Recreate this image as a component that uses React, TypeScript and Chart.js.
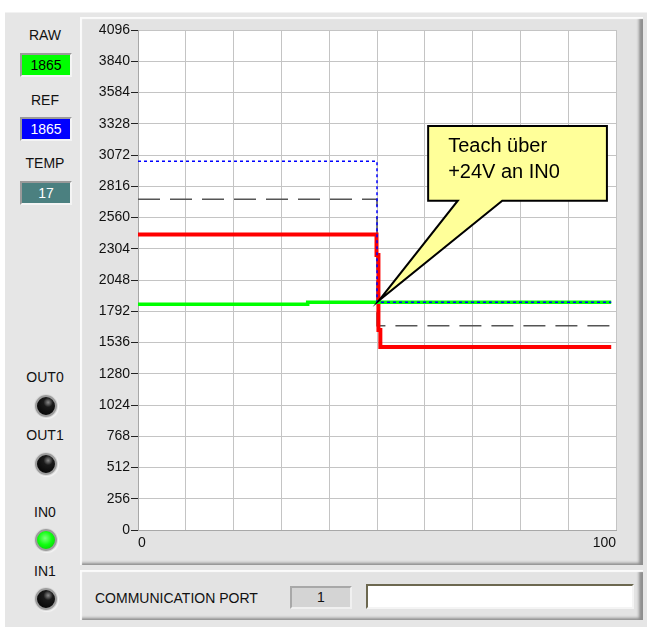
import React, { useEffect, useRef } from 'react';
import { Chart, registerables } from 'chart.js';

Chart.register(...registerables);

// ---- data ----
const Y_MIN = 0;
const Y_MAX = 4096;
const Y_STEP = 256;
const X_MIN = 0;
const X_MAX = 100;
const X_STEP = 10;
const X_TICK_LABELS = [0, 100];

const RAW_X = [0, 35.5, 35.5, 99];
const RAW_Y = [1850, 1850, 1865, 1865];

const REF_X = [0, 50, 50, 99];
const REF_Y = [3020, 3020, 1865, 1865];

const TOL_X = [0, 50, 50, 99];
const TOL_Y = [2710, 2710, 1673, 1673];

const OUT_X = [0, 49.9, 49.9, 50.3, 50.3, 50.7, 50.7, 99];
const OUT_Y = [2420, 2420, 2253, 2253, 1638, 1638, 1500, 1500];

const CALLOUT_LINES = ['Teach über', '+24V an IN0'];
const CALLOUT_BOX_X = [60.7, 98.1];
const CALLOUT_BOX_Y = [3310, 2698];
const CALLOUT_BASE_X = [66.9, 76.2];
const CALLOUT_TIP = [50.4, 1880];

const RAW_VALUE = '1865';
const REF_VALUE = '1865';
const TEMP_VALUE = '17';
const PORT_VALUE = '1';

const FONT = '"Liberation Sans", Arial, sans-serif';

const pts = (xs: number[], ys: number[]) => xs.map((x, i) => ({ x, y: ys[i] }));

const plotBg = {
  id: 'plotBg',
  beforeDraw(chart: any) {
    const { ctx, chartArea: a } = chart;
    ctx.save();
    ctx.fillStyle = '#ffffff';
    ctx.fillRect(a.left, a.top, a.right - a.left, a.bottom - a.top);
    ctx.restore();
  },
};

const callout = {
  id: 'callout',
  afterDatasetsDraw(chart: any) {
    const { ctx } = chart;
    const xs = chart.scales.x;
    const ys = chart.scales.y;
    const l = xs.getPixelForValue(CALLOUT_BOX_X[0]);
    const r = xs.getPixelForValue(CALLOUT_BOX_X[1]);
    const t = ys.getPixelForValue(CALLOUT_BOX_Y[0]);
    const b = ys.getPixelForValue(CALLOUT_BOX_Y[1]);
    const b1 = xs.getPixelForValue(CALLOUT_BASE_X[0]);
    const b2 = xs.getPixelForValue(CALLOUT_BASE_X[1]);
    const tx = xs.getPixelForValue(CALLOUT_TIP[0]);
    const ty = ys.getPixelForValue(CALLOUT_TIP[1]);
    ctx.save();
    ctx.beginPath();
    ctx.moveTo(l, t);
    ctx.lineTo(r, t);
    ctx.lineTo(r, b);
    ctx.lineTo(b2, b);
    ctx.lineTo(tx, ty);
    ctx.lineTo(b1, b);
    ctx.lineTo(l, b);
    ctx.closePath();
    ctx.fillStyle = '#ffff99';
    ctx.fill();
    ctx.lineWidth = 2;
    ctx.strokeStyle = '#000000';
    ctx.lineJoin = 'miter';
    ctx.stroke();
    ctx.fillStyle = '#000000';
    ctx.font = `20px ${FONT}`;
    ctx.textBaseline = 'middle';
    ctx.textAlign = 'left';
    CALLOUT_LINES.forEach((line, i) => {
      ctx.fillText(line, l + 20, t + 21 + i * 26);
    });
    ctx.restore();
  },
};

function Led({ on, top }: { on?: boolean; top: number }) {
  return (
    <div
      style={{
        position: 'absolute',
        left: 35,
        top: top - 11,
        width: 18,
        height: 18,
        borderRadius: '50%',
        border: '2px solid #9c9c9c',
        boxShadow: '0 0 0 1px #d8d8d8, 1px 1px 1px 1px #f4f4f4',
        background: on
          ? 'radial-gradient(circle at 45% 40%, #7dff7d 0, #10ff10 45%, #00c000 100%)'
          : 'radial-gradient(circle at 62% 30%, #8a8a8a 0, #1a1a1a 28%, #000000 100%)',
      }}
    />
  );
}

function Label({ text, top }: { text: string; top: number }) {
  return (
    <div
      style={{
        position: 'absolute',
        left: 14,
        width: 62,
        top: top - 8,
        height: 16,
        lineHeight: '16px',
        textAlign: 'center',
        fontSize: 14,
        color: '#111',
      }}
    >
      {text}
    </div>
  );
}

function ValueBox({ text, top, bg, color }: { text: string; top: number; bg: string; color: string }) {
  return (
    <div
      style={{
        position: 'absolute',
        left: 20,
        top,
        width: 48,
        height: 20,
        lineHeight: '20px',
        textAlign: 'center',
        fontSize: 14,
        background: bg,
        color,
        borderTop: '2px solid #9a9a9a',
        borderLeft: '2px solid #9a9a9a',
        borderBottom: '2px solid #f4f4f4',
        borderRight: '2px solid #f4f4f4',
      }}
    >
      {text}
    </div>
  );
}

export default function App() {
  const ref = useRef<HTMLCanvasElement>(null);

  useEffect(() => {
    if (!ref.current) return;
    const chart = new Chart(ref.current, {
      type: 'line',
      data: {
        datasets: [
          {
            label: 'REF',
            data: pts(REF_X, REF_Y),
            borderColor: '#0000ff',
            borderWidth: 1.5,
            borderDash: [3, 3],
            pointRadius: 0,
            tension: 0,
          },
          {
            label: 'RAW',
            data: pts(RAW_X, RAW_Y),
            borderColor: '#00ff00',
            borderWidth: 3.5,
            pointRadius: 0,
            tension: 0,
          },
          {
            label: 'OUT',
            data: pts(OUT_X, OUT_Y),
            borderColor: '#ff0000',
            borderWidth: 4,
            pointRadius: 0,
            tension: 0,
          },
          {
            label: 'TOL',
            data: pts(TOL_X, TOL_Y),
            borderColor: '#555555',
            borderWidth: 1.5,
            borderDash: [22, 10],
            pointRadius: 0,
            tension: 0,
          },
        ],
      },
      options: {
        animation: false,
        responsive: false,
        maintainAspectRatio: false,
        events: [],
        layout: { padding: { top: 12, right: 24, left: 0, bottom: 0 } },
        plugins: {
          legend: { display: false },
          tooltip: { enabled: false },
          title: { display: false },
        },
        scales: {
          x: {
            type: 'linear',
            min: X_MIN,
            max: X_MAX,
            afterFit: (s: any) => {
              s.height = 35;
            },
            ticks: {
              stepSize: X_STEP,
              autoSkip: false,
              maxRotation: 0,
              align: 'inner',
              padding: 5,
              color: '#111',
              font: { family: FONT, size: 14 },
              callback: (v: any) => (X_TICK_LABELS.includes(Number(v)) ? String(v) : ''),
            },
            grid: { color: '#c4c4c4', lineWidth: 1, drawTicks: false },
            border: { color: '#a8a8a8', width: 1 },
          },
          y: {
            type: 'linear',
            min: Y_MIN,
            max: Y_MAX,
            afterFit: (s: any) => {
              s.width = 58;
            },
            ticks: {
              stepSize: Y_STEP,
              autoSkip: false,
              padding: 1,
              color: '#111',
              font: { family: FONT, size: 14 },
              callback: (v: any) => String(v),
            },
            grid: { color: '#c4c4c4', lineWidth: 1, tickLength: 7, tickColor: '#222', drawTicks: true },
            border: { color: '#a8a8a8', width: 1 },
          },
        },
      } as any,
      plugins: [plotBg, callout],
    });
    return () => chart.destroy();
  }, []);

  const panelShadow = 'inset 2px 2px 1px #fbfbfb, inset -5px -3px 3px -1px #8e8e8e';

  return (
    <div
      style={{
        position: 'absolute',
        left: 0,
        top: 0,
        width: 647,
        height: 627,
        background: '#ffffff',
        overflow: 'hidden',
        fontFamily: FONT,
      }}
    >
      <div
        style={{
          position: 'absolute',
          left: 5,
          top: 12,
          width: 642,
          height: 615,
          background: '#e6e6e6',
          borderTop: '1px solid #f2f2f2',
        }}
      />
      {/* left column */}
      <Label text="RAW" top={35} />
      <ValueBox text={RAW_VALUE} top={53} bg="#00ff00" color="#000" />
      <Label text="REF" top={100} />
      <ValueBox text={REF_VALUE} top={117} bg="#0000ff" color="#fff" />
      <Label text="TEMP" top={163} />
      <ValueBox text={TEMP_VALUE} top={181} bg="#4b8080" color="#fff" />

      <Label text="OUT0" top={377} />
      <Led top={406} />
      <Label text="OUT1" top={435} />
      <Led top={464} />
      <Label text="IN0" top={512} />
      <Led on top={540} />
      <Label text="IN1" top={571} />
      <Led top={599} />

      {/* chart panel */}
      <div
        style={{
          position: 'absolute',
          left: 80,
          top: 17,
          width: 563,
          height: 548,
          background: '#e3e3e3',
          boxShadow: panelShadow,
        }}
      >
        <canvas
          ref={ref}
          width={560}
          height={547}
          style={{ position: 'absolute', left: 0, top: 1, width: 560, height: 547 }}
        />
      </div>

      {/* bottom panel */}
      <div
        style={{
          position: 'absolute',
          left: 80,
          top: 570,
          width: 563,
          height: 50,
          background: '#e3e3e3',
          boxShadow: panelShadow,
        }}
      >
        <div
          style={{
            position: 'absolute',
            left: 15,
            top: 20,
            fontSize: 14,
            lineHeight: '16px',
            color: '#111',
          }}
        >
          COMMUNICATION PORT
        </div>
        <div
          style={{
            position: 'absolute',
            left: 210,
            top: 16,
            width: 58,
            height: 19,
            lineHeight: '19px',
            textAlign: 'center',
            fontSize: 14,
            background: '#d4d4d4',
            color: '#111',
            borderTop: '2px solid #a8a8a8',
            borderLeft: '2px solid #a8a8a8',
            borderBottom: '2px solid #f0f0f0',
            borderRight: '2px solid #f0f0f0',
          }}
        >
          {PORT_VALUE}
        </div>
        <div
          style={{
            position: 'absolute',
            left: 286,
            top: 14,
            width: 264,
            height: 21,
            background: '#ffffff',
            borderTop: '2px solid #6c6850',
            borderLeft: '2px solid #6c6850',
            borderBottom: '2px solid #f4f4f4',
            borderRight: '2px solid #f4f4f4',
          }}
        />
      </div>
    </div>
  );
}
